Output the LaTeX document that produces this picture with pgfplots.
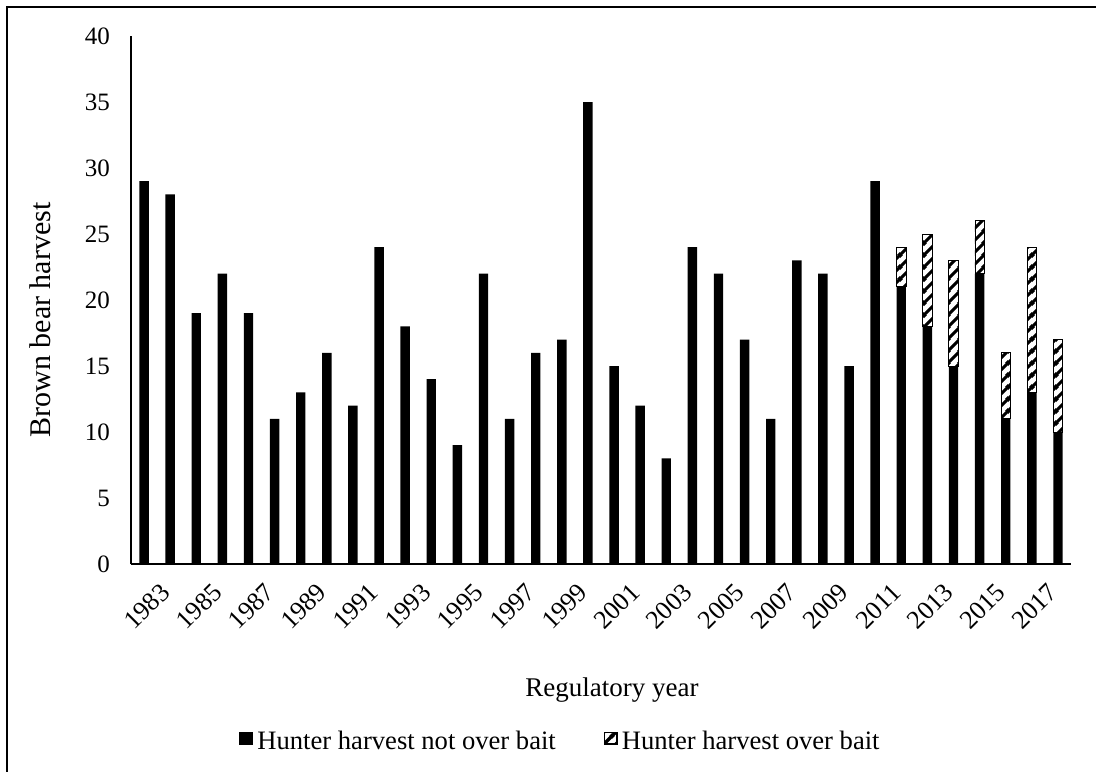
\documentclass[border=0pt]{standalone}
\usepackage{fontspec}
\setmainfont{Liberation Serif}
\usepackage{pgfplots}
\usepackage{pgfplotstable}
\pgfplotsset{compat=1.18}
\usetikzlibrary{patterns.meta}

% thick diagonal stripes for the bait share
\tikzdeclarepattern{
  name=baitstripes, type=uncolored,
  bounding box={(0pt,0pt) and (6pt,6pt)},
  tile size={(6pt,6pt)},
  code={
    \draw[line width=1.7pt] (-1pt,-1pt) -- (7pt,7pt);
    \draw[line width=1.7pt] (-1pt,5pt) -- (1pt,7pt);
    \draw[line width=1.7pt] (5pt,-1pt) -- (7pt,1pt);
  }
}

\pgfplotstableread{
x year notbait bait
0 1983 29 0
1 1984 28 0
2 1985 19 0
3 1986 22 0
4 1987 19 0
5 1988 11 0
6 1989 13 0
7 1990 16 0
8 1991 12 0
9 1992 24 0
10 1993 18 0
11 1994 14 0
12 1995 9 0
13 1996 22 0
14 1997 11 0
15 1998 16 0
16 1999 17 0
17 2000 35 0
18 2001 15 0
19 2002 12 0
20 2003 8 0
21 2004 24 0
22 2005 22 0
23 2006 17 0
24 2007 11 0
25 2008 23 0
26 2009 22 0
27 2010 15 0
28 2011 29 0
29 2012 21 3
30 2013 18 7
31 2014 15 8
32 2015 22 4
33 2016 11 5
34 2017 13 11
35 2018 10 7
}\harvest

\begin{document}
\begin{tikzpicture}
\useasboundingbox (0,0) rectangle (548pt,385.5pt);
\draw[line width=1pt] (3.5pt,-1pt) -- (3.5pt,382pt) -- (549pt,382pt);
\begin{axis}[
  at={(65.5pt,103.5pt)}, anchor=south west,
  scale only axis, width=470pt, height=264pt,
  ybar stacked, bar width=4.7pt,
  xmin=-0.5, xmax=35.5, ymin=0, ymax=40,
  axis x line=bottom, axis y line=left,
  x axis line style={-, line width=1.1pt},
  y axis line style={-, line width=0.6pt},
  major tick length=0pt,
  ytick={0,5,...,40},
  xtick={0,2,...,34},
  xticklabels={1983,1985,1987,1989,1991,1993,1995,1997,1999,2001,2003,2005,2007,2009,2011,2013,2015,2017},
  /pgf/number format/assume math mode=true,
  tick label style={font=\fontsize{12.5}{14}\selectfont},
  yticklabel style={xshift=-7pt},
  xticklabel style={font=\fontsize{13}{15}\selectfont, rotate=45, anchor=east, xshift=2.5pt, yshift=-16pt},
  legend columns=2,
  legend style={draw=none, at={(0.458,-0.336)}, anchor=center,
    font=\fontsize{13.3}{15}\selectfont,
    /tikz/every odd column/.append style={column sep=0pt},
    /tikz/every even column/.append style={column sep=22pt}},
  legend cell align=left,
]
\addplot[fill=black, draw=none,
  legend image code/.code={\fill[black] (0pt,-1.8pt) rectangle (7pt,4.9pt);}]
  table[x=x, y=notbait] {\harvest};
\addplot[draw=black, line width=0.4pt, pattern={baitstripes}, pattern color=black,
  legend image code/.code={\draw[black, line width=0.8pt, pattern={baitstripes}, pattern color=black] (0.4pt,-1.4pt) rectangle (6.6pt,4.5pt);}]
  table[x=x, y=bait] {\harvest};
\legend{Hunter harvest not over bait, Hunter harvest over bait}
\end{axis}
\node[rotate=90, font=\fontsize{15}{17}\selectfont] at (20pt,225.5pt) {Brown bear harvest};
\node[font=\fontsize{13.5}{16}\selectfont] at (306pt,40.5pt) {Regulatory year};
\end{tikzpicture}
\end{document}
